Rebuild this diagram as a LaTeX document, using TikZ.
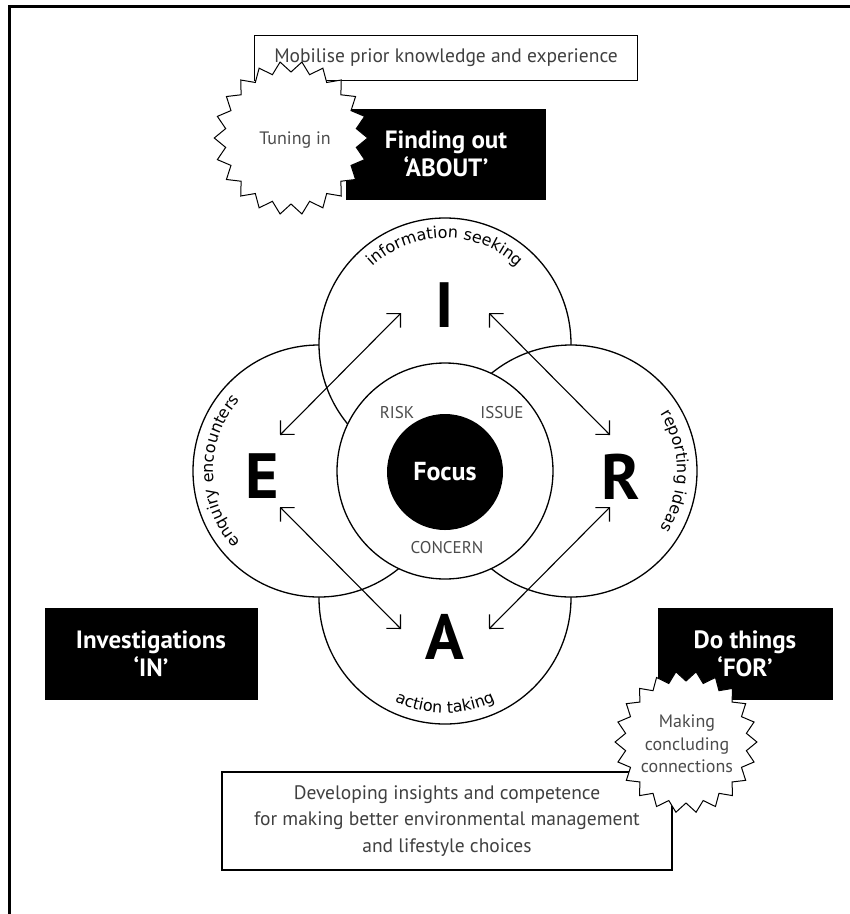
\documentclass[tikz,border=0pt]{standalone}
\usepackage{fontspec}
\setmainfont{PT Sans}
\newfontfamily\curvefont{DejaVu Sans}
\newcommand\curvetext{\curvefont\fontsize{16}{16}\selectfont}
\usetikzlibrary{shapes.geometric,decorations.text,arrows.meta}

\begin{document}
\begin{tikzpicture}[x=1pt, y=1pt,
    framenode/.style={rectangle, draw=black, line width=1.6pt, fill=white, inner sep=0pt, text=black!75, align=center, font=\fontsize{19.5}{26.5}\selectfont},
    blacknode/.style={rectangle, fill=black, inner sep=0pt, text=white, align=center, font=\fontsize{25}{28}\selectfont\bfseries},
    burstnode/.style={star, star points=22, star point ratio=0.86, draw=black, line width=1pt, fill=white, inner sep=0pt},
    ringnode/.style={circle, draw=black, line width=1.3pt, fill=white, inner sep=0pt, minimum size=252pt},
    letternode/.style={inner sep=0pt, font=\fontsize{64}{64}\selectfont\bfseries},
    wordnode/.style={inner sep=0pt, text=black!70, align=center, font=\fontsize{18}{22.5}\selectfont},
    capsnode/.style={inner sep=0pt, text=black!70, font=\fontsize{17}{17}\selectfont},
    linkarrow/.style={{Straight Barb[length=10pt,width=20pt]}-{Straight Barb[length=10pt,width=20pt]}, line width=1.1pt},
    ]
    \useasboundingbox (0,0) rectangle (850,-914);

    %Frame
    \draw[line width=3pt] (9,-914) -- (9,-6) -- (850,-6);

    %Top
    \node[framenode, minimum width=383pt, minimum height=45pt] (mobilise) at (446,-58) {Mobilise prior knowledge and experience};
    \node[blacknode, minimum width=200pt, minimum height=91pt] (about) at (446,-154) {Finding out\\`ABOUT'};
    \node[burstnode, minimum size=132pt] (tuning) at (291,-138) {};
    \node[wordnode] (tuninglabel) at (295,-140) {Tuning in};

    %Circles
    \node[ringnode] (circA) at (445,-598) {};
    \node[ringnode] (circE) at (319,-471) {};
    \node[ringnode] (circI) at (445,-344) {};
    \node[ringnode] (circR) at (571,-471) {};
    \node[circle, draw=black, line width=1.3pt, fill=white, inner sep=0pt, minimum size=216pt] (inner) at (445,-471) {};
    \node[circle, fill=black, inner sep=0pt, minimum size=116pt, text=white, font=\fontsize{26}{26}\selectfont\bfseries] (focus) at (445,-472) {Focus};

    %Letters
    \node[letternode] (letI) at (445,-305) {I};
    \node[letternode] (letE) at (262,-476) {E};
    \node[letternode] (letR) at (621,-477) {R};
    \node[letternode] (letA) at (445,-637) {A};
    \node[capsnode] (risk) at (397,-413) {RISK};
    \node[capsnode] (issue) at (502,-413) {ISSUE};
    \node[capsnode] (concern) at (447,-548) {CONCERN};

    %Curved labels
    \path[decorate, decoration={text along path, text align=center, text={|\curvetext|information seeking}}] (circI) ++(145:106) arc (145:35:106);
    \path[decorate, decoration={text along path, text align=center, text={|\curvetext|enquiry encounters}}] (circE) ++(232:106) arc (232:128:106);
    \path[decorate, decoration={text along path, text align=center, text={|\curvetext|reporting ideas}}] (circR) ++(48:106) arc (48:-48:106);
    \path[decorate, decoration={text along path, text align=center, text={|\curvetext|action taking}}] (circA) ++(235:115) arc (235:305:115);

    %Arrows
    \coordinate (tipEI) at (280,-435);
    \coordinate (tipIE) at (401,-313);
    \coordinate (tipIR) at (489,-313);
    \coordinate (tipRI) at (610,-435);
    \coordinate (tipEA) at (280,-507);
    \coordinate (tipAE) at (401,-629);
    \coordinate (tipRA) at (610,-507);
    \coordinate (tipAR) at (489,-629);
    \draw[linkarrow] (tipEI) -- (tipIE);
    \draw[linkarrow] (tipIR) -- (tipRI);
    \draw[linkarrow] (tipEA) -- (tipAE);
    \draw[linkarrow] (tipRA) -- (tipAR);

    %Bottom
    \node[blacknode, minimum width=213pt, minimum height=92pt] (inbox) at (151,-654) {Investigations\\`IN'};
    \node[blacknode, minimum width=175pt, minimum height=92pt] (forbox) at (745,-654) {Do things\\`FOR'};
    \node[framenode, minimum width=450pt, minimum height=98pt] (insights) at (447,-821) {Developing insights and competence\\for making better environmental management\\and lifestyle choices};
    \node[burstnode, minimum size=122pt] (making) at (686,-742) {};
    \node[wordnode] (makinglabel) at (687,-744) {Making\\concluding\\connections};

\end{tikzpicture}
\end{document}
